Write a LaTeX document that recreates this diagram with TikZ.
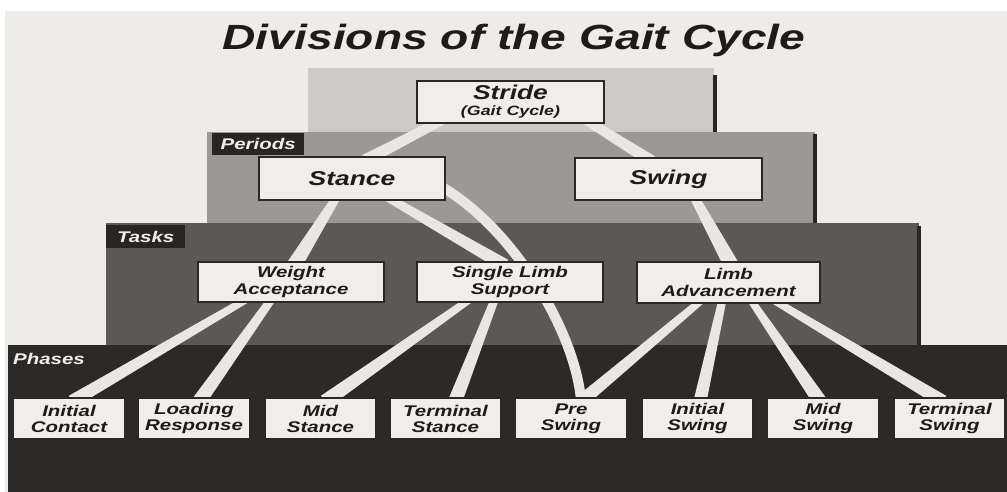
\documentclass[tikz,border=0pt]{standalone}
\usepackage{fontspec}
\setmainfont{Liberation Sans}[FakeStretch=1.32]
\usetikzlibrary{calc}
\definecolor{pagec}{HTML}{EEECE8}
\definecolor{stridec}{HTML}{CCCAC7}
\definecolor{periodc}{HTML}{9B9996}
\definecolor{taskc}{HTML}{5B5957}
\definecolor{phasec}{HTML}{2C2A28}
\definecolor{tabc}{HTML}{282624}
\definecolor{boxfill}{HTML}{F0EEEA}
\definecolor{boxline}{HTML}{2A2826}
\definecolor{bandc}{HTML}{E9E7E2}
\definecolor{inkc}{HTML}{1E1C1A}
\pgfdeclarelayer{back}
\pgfdeclarelayer{mid}
\pgfsetlayers{back,mid,main}
\newcommand\taperband[4]{%
  \path #1 coordinate (tbA) #2 coordinate (tbB);
  \fill[bandc] ($(tbA)!#3!90:(tbB)$) -- ($(tbA)!#3!-90:(tbB)$) -- ($(tbB)!#4!90:(tbA)$) -- ($(tbB)!#4!-90:(tbA)$) -- cycle;}
\tikzset{
  box/.style={draw=boxline, fill=boxfill, line width=1.1pt, inner sep=0pt, align=center, text=inkc},
  big/.style={box, minimum width=187pt, minimum height=42pt, font=\fontsize{20}{22}\selectfont\bfseries\itshape},
  task/.style={box, minimum width=186pt, minimum height=40pt, font=\fontsize{15.5}{17}\selectfont\bfseries\itshape},
  phase/.style={box, minimum width=111pt, minimum height=41pt, font=\fontsize{15.5}{16}\selectfont\bfseries\itshape},
  tab/.style={fill=tabc, text=boxfill, font=\fontsize{15.5}{17}\selectfont\bfseries\itshape, inner sep=0pt, anchor=north west},
  edgeline/.style={draw=tabc, line width=4pt},
  bandline/.style={draw=bandc, line width=10pt},
}
\begin{document}
\begin{tikzpicture}[x=1pt,y=-1pt]
\useasboundingbox (0,0) rectangle (1007,492);
\begin{pgfonlayer}{back}
  \fill[pagec] (0,0) rectangle (1007,492);
  \fill[white] (0,0) rectangle (1007,11);
  \fill[white] (0,0) rectangle (5,492);
  \fill[stridec] (308,68) rectangle (714,132);
  \draw[edgeline] (715,75) -- (715,132);
  \fill[periodc] (207,132) rectangle (815,223);
  \draw[edgeline] (815,134) -- (815,223);
  \fill[taskc] (106,223) rectangle (919,345);
  \draw[edgeline] (919,226) -- (919,345);
  \fill[phasec] (8,345) rectangle (1007,492);
\end{pgfonlayer}

\node[font=\fontsize{35}{40}\selectfont\bfseries\itshape, text=inkc, anchor=base] (title) at (514,50) {Divisions of the Gait Cycle};

\node[tab, minimum width=92pt, minimum height=22pt] (ptab) at (212,133) {Periods};
\node[tab, minimum width=79pt, minimum height=23pt] (ttab) at (106,225) {Tasks};
\node[text=boxfill, font=\fontsize{15.5}{17}\selectfont\bfseries\itshape, anchor=base west, inner sep=0pt] (phlab) at (13,364) {Phases};

\node[big] (stride) at (510.5,102) {Stride\\[-6pt]{\fontsize{13.5}{14}\selectfont(Gait Cycle)}};
\node[big, minimum width=186pt, minimum height=43pt] (stance) at (352,178.5) {Stance};
\node[big] (swing) at (668.5,179) {Swing};
\node[task] (wa) at (291,282) {Weight\\Acceptance};
\node[task] (sls) at (510,282) {Single Limb\\Support};
\node[task, minimum width=183pt, minimum height=41pt] (la) at (728.5,282.5) {Limb\\Advancement};

\node[phase] (ic) at (69,418.5) {Initial\\Contact};
\node[phase] (lr) at (194,418.5) {Loading\\Response};
\node[phase] (ms) at (320.5,418.5) {Mid\\Stance};
\node[phase] (ts) at (445.5,418.5) {Terminal\\Stance};
\node[phase] (ps) at (571,418.5) {Pre\\Swing};
\node[phase] (isw) at (697.5,418.5) {Initial\\Swing};
\node[phase] (msw) at (823,418.5) {Mid\\Swing};
\node[phase] (tsw) at (949.5,418.5) {Terminal\\Swing};

\begin{pgfonlayer}{mid}
  \taperband{([xshift=-67pt,yshift=4pt]stride.south)}{([xshift=13pt,yshift=-4pt]stance.north)}{4.5pt}{6pt}
  \taperband{([xshift=74.5pt,yshift=4pt]stride.south)}{([xshift=-16.5pt,yshift=-4pt]swing.north)}{4.5pt}{6pt}
  \taperband{([xshift=-15pt,yshift=4pt]stance.south)}{([xshift=3pt,yshift=-4pt]wa.north)}{4pt}{7.5pt}
  \taperband{([xshift=34pt,yshift=4pt]stance.south)}{([xshift=-5pt,yshift=-4pt]sls.north)}{4pt}{6.5pt}
  \taperband{([xshift=25.5pt,yshift=4pt]swing.south)}{([xshift=3pt,yshift=-4pt]la.north)}{4.5pt}{7.5pt}
  \taperband{([xshift=-43pt,yshift=4pt]wa.south)}{([xshift=3pt,yshift=-4pt]ic.north)}{3.5pt}{6.5pt}
  \taperband{([xshift=-19pt,yshift=4pt]wa.south)}{([xshift=5pt,yshift=-4pt]lr.north)}{4pt}{7pt}
  \taperband{([xshift=-39pt,yshift=4pt]sls.south)}{([xshift=4.5pt,yshift=-4pt]ms.north)}{3.5pt}{7pt}
  \taperband{([xshift=-15pt,yshift=4pt]sls.south)}{([xshift=9.5pt,yshift=-4pt]ts.north)}{4pt}{7pt}
  \taperband{([xshift=-26pt,yshift=4pt]la.south)}{([xshift=10pt,yshift=-4pt]ps.north)}{3.5pt}{6.5pt}
  \taperband{([xshift=-6pt,yshift=4pt]la.south)}{([xshift=2.5pt,yshift=-4pt]isw.north)}{4pt}{6.5pt}
  \taperband{([xshift=22pt,yshift=4pt]la.south)}{([xshift=-3pt,yshift=-4pt]msw.north)}{3.5pt}{7pt}
  \taperband{([xshift=44pt,yshift=4pt]la.south)}{([xshift=-6.5pt,yshift=-4pt]tsw.north)}{3.5pt}{6.5pt}
  \draw[bandline] ([xshift=-8pt,yshift=-6pt]stance.east) .. controls +(73,40) and +(-6,-71) .. ([xshift=10pt,yshift=-3pt]ps.north);
\end{pgfonlayer}
\end{tikzpicture}
\end{document}
